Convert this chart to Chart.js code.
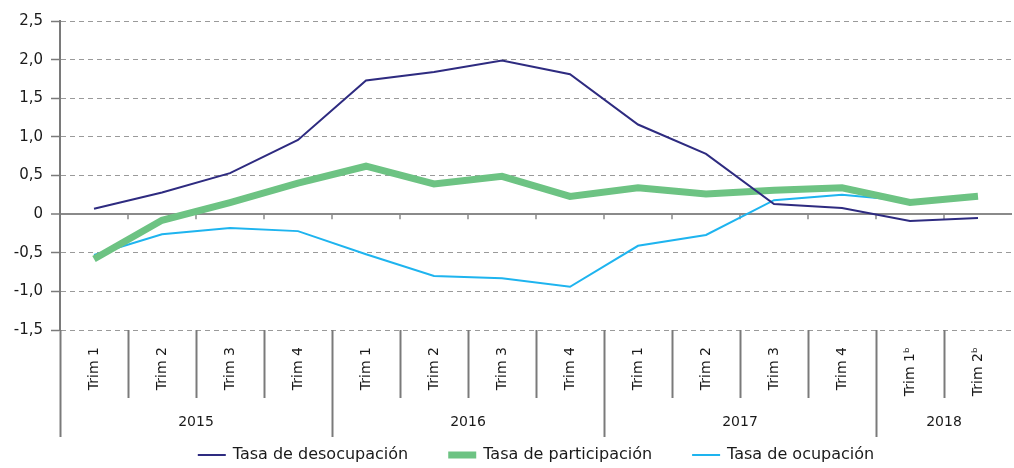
<!DOCTYPE html>
<html>
<head>
<meta charset="utf-8">
<script src="https://cdn.jsdelivr.net/npm/chart.js@4.4.1/dist/chart.umd.min.js"></script>
<style>
  body { margin: 0; background: #fff; }
  #wrap { position: relative; width: 1014px; height: 468px; }
</style>
</head>
<body>
<div id="wrap"><canvas id="tasas"></canvas></div>
<script>
// ── data ─────────────────────────────────────────────
const quarters = ['Trim 1', 'Trim 2', 'Trim 3', 'Trim 4',
                  'Trim 1', 'Trim 2', 'Trim 3', 'Trim 4',
                  'Trim 1', 'Trim 2', 'Trim 3', 'Trim 4',
                  'Trim 1\u1D47', 'Trim 2\u1D47'];
const quarterYear = ['2015', '2015', '2015', '2015',
                     '2016', '2016', '2016', '2016',
                     '2017', '2017', '2017', '2017',
                     '2018', '2018'];
const desocupacion = [0.07, 0.28, 0.53, 0.96, 1.73, 1.84, 1.99, 1.81, 1.16, 0.78, 0.13, 0.08, -0.09, -0.05];
const participacion = [-0.58, -0.08, 0.15, 0.40, 0.62, 0.39, 0.49, 0.23, 0.34, 0.26, 0.31, 0.34, 0.15, 0.23];
const ocupacion = [-0.53, -0.26, -0.18, -0.22, -0.52, -0.80, -0.83, -0.94, -0.41, -0.27, 0.18, 0.25, 0.17, 0.21];
const yMin = -1.5, yMax = 2.5, yStep = 0.5;

const FONT = '"DejaVu Sans", "Liberation Sans", sans-serif';
Chart.defaults.font.family = FONT;
Chart.defaults.color = '#1a1a1a';

// separators, year labels, zero-line ticks and legend
const decorations = {
  id: 'decorations',
  beforeDatasetsDraw(chart) {
    const { ctx, scales: { x, y } } = chart;
    const y0 = y.getPixelForValue(0);
    ctx.save();
    ctx.strokeStyle = '#8a8a8a';
    ctx.lineWidth = 1.5;
    for (let i = 1; i < quarters.length; i++) {
      const bx = (x.getPixelForValue(i - 1) + x.getPixelForValue(i)) / 2;
      ctx.beginPath();
      ctx.moveTo(bx, y0);
      ctx.lineTo(bx, y0 + 5);
      ctx.stroke();
    }
    ctx.restore();
  },
  afterDraw(chart) {
    const { ctx, chartArea, scales: { x } } = chart;
    const top = chartArea.bottom;
    const shortEnd = top + 68, longEnd = top + 107;
    const boundary = i => {
      if (i <= 0) return chartArea.left;
      if (i >= quarters.length) return chartArea.right;
      return (x.getPixelForValue(i - 1) + x.getPixelForValue(i)) / 2;
    };
    ctx.save();
    ctx.strokeStyle = '#7a7a7a';
    ctx.lineWidth = 2;
    // year groups
    const groups = [];
    quarterYear.forEach((yr, i) => {
      if (!groups.length || groups[groups.length - 1].year !== yr) groups.push({ year: yr, start: i, end: i });
      else groups[groups.length - 1].end = i;
    });
    for (let i = 0; i < quarters.length; i++) {
      const isYearStart = groups.some(g => g.start === i);
      const bx = Math.round(boundary(i)) + 0.5;
      ctx.beginPath();
      ctx.moveTo(bx, top);
      ctx.lineTo(bx, isYearStart ? longEnd : shortEnd);
      ctx.stroke();
    }
    ctx.fillStyle = '#1a1a1a';
    ctx.font = '14px ' + FONT;
    ctx.textAlign = 'center';
    ctx.textBaseline = 'middle';
    groups.forEach(g => {
      const cx = (boundary(g.start) + boundary(g.end + 1)) / 2;
      ctx.fillText(g.year, cx, top + 92);
    });

    // legend
    ctx.font = '16px ' + FONT;
    const lineW = 28, textGap = 7, itemGap = 40;
    const items = chart.data.datasets.map(ds => ({
      label: ds.label, color: ds.borderColor, width: ds.borderWidth,
      tw: ctx.measureText(ds.label).width
    }));
    const total = items.reduce((s, it) => s + lineW + textGap + it.tw, 0) + itemGap * (items.length - 1);
    let lx = (chartArea.left + chartArea.right) / 2 - total / 2;
    const ly = 455;
    ctx.textAlign = 'left';
    items.forEach(it => {
      ctx.strokeStyle = it.color;
      ctx.lineWidth = it.width;
      ctx.beginPath();
      ctx.moveTo(lx, ly);
      ctx.lineTo(lx + lineW, ly);
      ctx.stroke();
      ctx.fillStyle = '#1a1a1a';
      ctx.fillText(it.label, lx + lineW + textGap, ly);
      lx += lineW + textGap + it.tw + itemGap;
    });
    ctx.restore();
  }
};

new Chart(document.getElementById('tasas'), {
  type: 'line',
  data: {
    labels: quarters,
    datasets: [
      {
        label: 'Tasa de desocupación',
        data: desocupacion,
        borderColor: '#2e2b80',
        borderWidth: 2,
        pointRadius: 0,
        tension: 0,
        fill: false
      },
      {
        label: 'Tasa de participación',
        data: participacion,
        borderColor: '#6dc383',
        borderWidth: 7,
        pointRadius: 0,
        tension: 0,
        fill: false
      },
      {
        label: 'Tasa de ocupación',
        data: ocupacion,
        borderColor: '#1eb4ef',
        borderWidth: 2,
        pointRadius: 0,
        tension: 0,
        fill: false
      }
    ]
  },
  options: {
    responsive: true,
    maintainAspectRatio: false,
    animation: false,
    layout: { padding: { top: 21, right: 2, left: 0, bottom: 31 } },
    plugins: {
      legend: { display: false },
      tooltip: { enabled: false }
    },
    scales: {
      x: {
        offset: true,
        grid: { display: false, drawTicks: false },
        border: { display: false },
        ticks: {
          minRotation: 90,
          maxRotation: 90,
          padding: 17,
          autoSkip: false,
          font: { size: 14 },
          color: '#1a1a1a'
        },
        afterFit(scale) { scale.height = 107; }
      },
      y: {
        min: yMin,
        max: yMax,
        grid: {
          color: ctx => ctx.tick && ctx.tick.value === 0 ? '#8a8a8a' : '#9a9a9a',
          lineWidth: ctx => ctx.tick && ctx.tick.value === 0 ? 2 : 1,
          tickLength: 9,
          tickColor: '#7a7a7a',
          tickWidth: 1.5,
          tickBorderDash: []
        },
        border: {
          display: true,
          color: '#7a7a7a',
          width: 2,
          dash: ctx => ctx.tick && ctx.tick.value === 0 ? [] : [5, 4]
        },
        ticks: {
          stepSize: yStep,
          padding: 8,
          font: { size: 15 },
          color: '#1a1a1a',
          callback: v => v === 0 ? '0' : v.toFixed(1).replace('.', ',')
        },
        afterFit(scale) { scale.width = 60; }
      }
    }
  },
  plugins: [decorations]
});
</script>
</body>
</html>
